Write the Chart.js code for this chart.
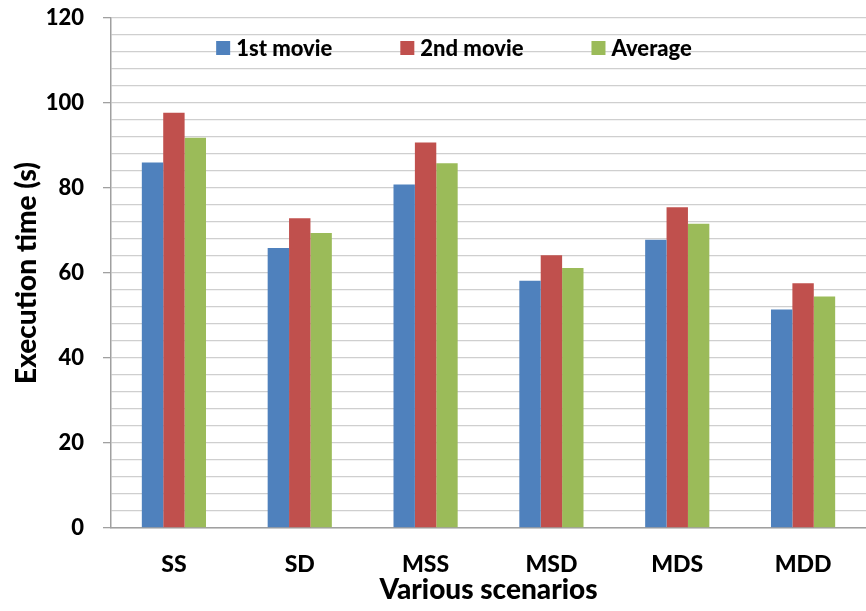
<!DOCTYPE html>
<html>
<head>
<meta charset="utf-8">
<script src="https://cdn.jsdelivr.net/npm/chart.js@4.4.1/dist/chart.umd.min.js"></script>
<style>
  html, body { margin: 0; padding: 0; background: #fff; }
  #wrap { width: 866px; height: 611px; position: relative; }
</style>
</head>
<body>
<div id="wrap"><canvas id="grafico"></canvas></div>
<script>
const cenarios = ['SS', 'SD', 'MSS', 'MSD', 'MDS', 'MDD'];
const filme1 = [86.0, 65.9, 80.8, 58.2, 67.8, 51.4];
const filme2 = [97.7, 72.9, 90.7, 64.2, 75.5, 57.6];
const media = [91.8, 69.4, 85.8, 61.2, 71.6, 54.5];
const nomesSeries = ['1st movie', '2nd movie', 'Average'];
const cores = ['#4f81bd', '#c0504d', '#9bbb59'];

const fonte = 'Lato, "Open Sans", sans-serif';
const peso = '900';

// legenda desenhada dentro da area do grafico, como no original
const legendaDentro = {
  id: 'legendaDentro',
  afterDraw(chart) {
    const ctx = chart.ctx;
    const ds = chart.data.datasets;
    ctx.save();
    ctx.font = peso + ' 22px ' + fonte;
    ctx.textBaseline = 'middle';
    const caixa = 14, gap = 6, espaco = 68;
    let total = 0;
    ds.forEach((d, i) => {
      total += caixa + gap + ctx.measureText(d.label).width;
      if (i < ds.length - 1) total += espaco;
    });
    let x = 454 - total / 2;
    const y = 48;
    ds.forEach(d => {
      ctx.fillStyle = d.backgroundColor;
      ctx.fillRect(x, y - caixa / 2, caixa, caixa);
      x += caixa + gap;
      ctx.fillStyle = '#000';
      ctx.fillText(d.label, x, y + 1);
      x += ctx.measureText(d.label).width + espaco;
    });
    ctx.restore();
  }
};

const ctx = document.getElementById('grafico').getContext('2d');
new Chart(ctx, {
  type: 'bar',
  data: {
    labels: cenarios,
    datasets: [
      { label: nomesSeries[0], data: filme1, backgroundColor: cores[0] },
      { label: nomesSeries[1], data: filme2, backgroundColor: cores[1] },
      { label: nomesSeries[2], data: media, backgroundColor: cores[2] }
    ]
  },
  options: {
    responsive: true,
    maintainAspectRatio: false,
    animation: false,
    layout: { padding: { top: 0, right: 0, left: 0, bottom: 0 } },
    datasets: {
      bar: {
        categoryPercentage: 0.51,
        barPercentage: 1.0,
        borderWidth: 0
      }
    },
    plugins: {
      legend: { display: false },
      tooltip: { enabled: false }
    },
    scales: {
      x: {
        afterFit: s => { s.height = 83; },
        grid: { display: false, drawTicks: false },
        border: { display: true, color: '#a0a0a0', width: 1.5 },
        ticks: {
          color: '#000',
          font: { family: fonte, size: 23, weight: peso },
          padding: 23
        },
        title: {
          display: true,
          text: 'Various scenarios',
          color: '#000',
          font: { family: fonte, size: 28, weight: peso },
          padding: { top: 4, bottom: 4 }
        }
      },
      y: {
        min: 0,
        max: 120,
        afterFit: s => {
          s.width = 111;
          s.paddingTop = 18;
          s.paddingBottom = 0;
        },
        ticks: {
          stepSize: 4,
          autoSkip: false,
          color: '#000',
          font: { family: fonte, size: 22, weight: peso },
          padding: 19,
          callback: v => (v % 20 === 0 ? v : '')
        },
        grid: {
          color: '#cfcfcf',
          lineWidth: 1.3,
          tickLength: 8,
          tickColor: c => (c.tick && c.tick.value % 20 === 0 ? '#a0a0a0' : 'rgba(0,0,0,0)')
        },
        border: { display: true, color: '#a0a0a0', width: 1.5 },
        title: {
          display: true,
          text: 'Execution time (s)',
          color: '#000',
          font: { family: fonte, size: 28, weight: peso },
          padding: { top: 10, bottom: 0 }
        }
      }
    }
  },
  plugins: [legendaDentro]
});
</script>
</body>
</html>
